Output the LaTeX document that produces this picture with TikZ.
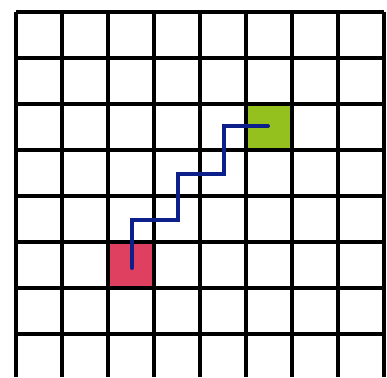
\documentclass[tikz,border=0pt]{standalone}
\definecolor{cellred}{HTML}{E0405F}
\definecolor{cellgreen}{HTML}{95C11F}
\definecolor{pathblue}{HTML}{0D1F8A}
\tikzset{
  gridline/.style={line width=3.2pt, black},
  pathline/.style={line width=4pt, pathblue, line cap=round, line join=miter},
}
\begin{document}
\begin{tikzpicture}[x=1pt,y=-1pt]
\useasboundingbox (0,0) rectangle (387,377);
\fill[white] (0,0) rectangle (387,377);
% coloured cells
\fill[cellred] (109,242) rectangle (155,288);
\fill[cellgreen] (247,104) rectangle (293,150);
% grid
\foreach \k in {0,...,8} {
  \draw[gridline] (16+46*\k,12) -- (16+46*\k,377);
}
\foreach \k in {0,...,7} {
  \draw[gridline] (16,12+46*\k) -- (384,12+46*\k);
}
% path
\coordinate (start) at (132,268);
\coordinate (goal) at (268,126);
\draw[pathline] (start) -- (132,220) -- (178,220) -- (178,174) -- (224,174) -- (224,126) -- (goal);
\end{tikzpicture}
\end{document}
